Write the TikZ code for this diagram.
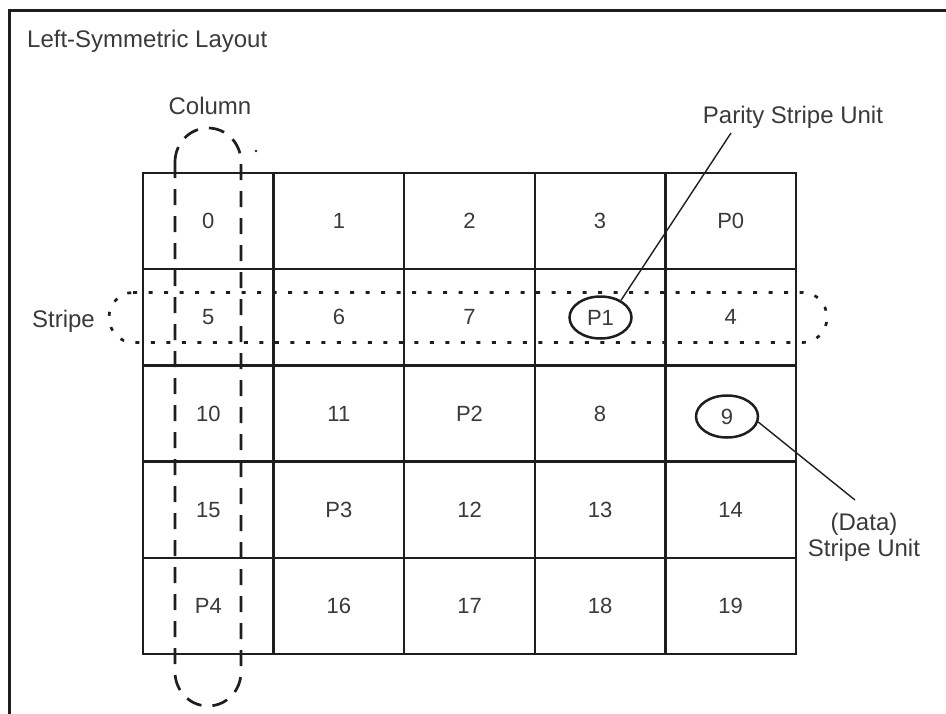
\documentclass[tikz,border=0pt]{standalone}
\usepackage{fontspec}
\setmainfont{Liberation Sans}
\usetikzlibrary{shapes.geometric}
\definecolor{ink}{HTML}{1E1E1E}
\definecolor{txt}{HTML}{3A3A3A}

\begin{document}
\begin{tikzpicture}[x=1pt,y=-1pt,
  cell/.style={draw=ink, line width=2.5pt, minimum width=130.6pt, minimum height=96.2pt,
               inner sep=0pt, text=txt, font=\fontsize{22}{26}\selectfont},
  note/.style={text=txt, font=\fontsize{24}{26}\selectfont, inner sep=0pt},
  ring/.style={ellipse, draw=ink, line width=2.5pt, minimum width=62pt, minimum height=42pt,
               inner sep=0pt, text=txt, font=\fontsize{22}{26}\selectfont},
  pointer/.style={draw=ink, line width=1.4pt},
  coldash/.style={draw=ink, line width=2.7pt, dash pattern=on 16pt off 11pt},
  stripedots/.style={draw=ink, line width=2.7pt, dash pattern=on 4pt off 11.5pt},
]
\useasboundingbox (0,0) rectangle (946,713);

% page frame (top and left edges only)
\draw[ink, line width=3pt] (9,720) -- (9,10) -- (952,10);

\node[note, anchor=base west] (title) at (27,47) {Left-Symmetric Layout};

% row 0
\node[cell] (c00) at (208.3,221.1) {0};
\node[cell] (c01) at (338.9,221.1) {1};
\node[cell] (c02) at (469.5,221.1) {2};
\node[cell] (c03) at (600.1,221.1) {3};
\node[cell] (c04) at (730.7,221.1) {P0};
% row 1
\node[cell] (c10) at (208.3,317.3) {5};
\node[cell] (c11) at (338.9,317.3) {6};
\node[cell] (c12) at (469.5,317.3) {7};
\node[cell] (c13) at (600.1,317.3) {};
\node[cell] (c14) at (730.7,317.3) {4};
% row 2
\node[cell] (c20) at (208.3,413.5) {10};
\node[cell] (c21) at (338.9,413.5) {11};
\node[cell] (c22) at (469.5,413.5) {P2};
\node[cell] (c23) at (600.1,413.5) {8};
\node[cell] (c24) at (730.7,413.5) {};
% row 3
\node[cell] (c30) at (208.3,509.7) {15};
\node[cell] (c31) at (338.9,509.7) {P3};
\node[cell] (c32) at (469.5,509.7) {12};
\node[cell] (c33) at (600.1,509.7) {13};
\node[cell] (c34) at (730.7,509.7) {14};
% row 4
\node[cell] (c40) at (208.3,605.9) {P4};
\node[cell] (c41) at (338.9,605.9) {16};
\node[cell] (c42) at (469.5,605.9) {17};
\node[cell] (c43) at (600.1,605.9) {18};
\node[cell] (c44) at (730.7,605.9) {19};

% circled stripe units
\node[ring] (p1) at (600.5,317.5) {P1};
\node[ring] (d9) at (727,416.5) {9};

% column outline
\draw[coldash] (175,162) -- (175,672)
  arc[start angle=180, end angle=0, x radius=33, y radius=34] -- (241,162)
  arc[start angle=0, end angle=-180, x radius=33, y radius=34] -- cycle;
\node[note, anchor=base] (collbl) at (210,114) {Column};
\fill[ink] (256,151) circle[radius=1.4];

% stripe outline
\draw[stripedots] (133,292.5) -- (803,292.5)
  arc[start angle=-90, end angle=90, x radius=24, y radius=25] -- (133,342.5)
  arc[start angle=90, end angle=270, x radius=24, y radius=25] -- cycle;
\node[note, anchor=base] (stlbl) at (63.5,327) {Stripe};

% callouts
\node[note, anchor=base] (parlbl) at (793,123) {Parity Stripe Unit};
\coordinate (pend) at (731,133);
\draw[pointer] (p1.40) -- (pend);

\node[note, align=center] (datalbl) at (864,537) {(Data)\\Stripe Unit};
\coordinate (dend) at (855,500);
\draw[pointer] (d9.-10) -- (dend);
\end{tikzpicture}
\end{document}
